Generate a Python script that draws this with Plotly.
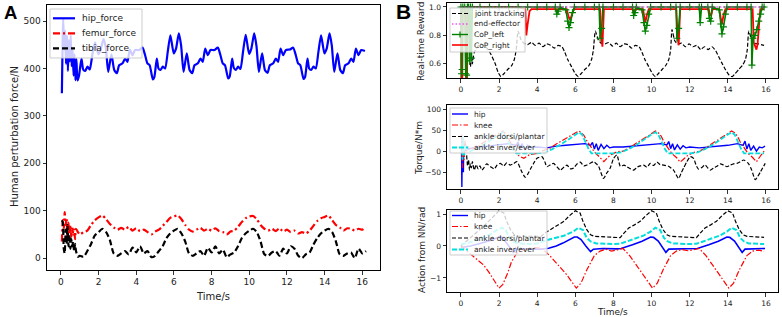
import plotly.graph_objects as go

W, H = 782, 317

# ---------------- Panel A data ----------------
hip_t = [0.05,0.12,0.17,0.22,0.27,0.32,0.37,0.42,0.47,0.52,0.57,0.62,0.67,0.72,0.77,0.82,
         0.88,0.96,1.09,1.18,1.29,1.41,1.53,1.67,1.81,1.99,2.11,2.26,2.38,2.51,2.68,2.83,2.97,3.09,3.27,3.41,3.53,3.66,3.80,3.94,4.15,4.33,4.47,4.59,4.71,
         4.88,4.96,5.09,5.18,5.29,5.41,5.53,5.67,5.81,5.99,6.11,6.26,6.38,6.51,6.68,6.83,6.97,7.09,7.27,7.41,7.53,7.66,7.80,7.94,8.15,8.33,8.47,8.59,8.71,
         8.88,8.96,9.09,9.18,9.29,9.41,9.53,9.67,9.81,9.99,10.11,10.26,10.38,10.51,10.68,10.83,10.97,11.09,11.27,11.41,11.53,11.66,11.80,11.94,12.15,12.33,12.47,12.59,12.71,
         12.88,12.96,13.09,13.18,13.29,13.41,13.53,13.67,13.81,13.99,14.11,14.26,14.38,14.51,14.68,14.83,14.97,15.09,15.27,15.41,15.53,15.66,15.80,15.94,16.14]
hip_force = [348,505,440,480,410,470,395,460,415,470,405,440,385,430,375,420,
             375,385,421,398,395,404,398,430,455,430,440,462,445,393,430,397,390,407,411,421,414,440,428,439,439,444,428,411,407,
             377,382,421,400,397,404,400,435,470,432,442,474,449,393,432,397,390,407,411,421,414,442,428,439,439,444,428,411,407,
             379,383,421,401,397,404,399,436,471,431,442,474,448,393,432,397,391,407,411,421,414,442,428,439,440,444,428,411,407,
             378,382,421,400,397,404,400,435,470,432,442,474,449,393,432,397,390,407,411,421,414,442,428,439,437]

ft_t = [0.05,0.1,0.15,0.2,0.25,0.3,0.35,0.4,0.45,0.5,0.55,0.6,0.65,0.7,0.75,0.8,0.9,1.0,
        1.2,1.4,1.6,1.8,2.0,2.2,2.4,2.6,2.8,3.0,3.2,3.4,3.6,3.8,4.0,4.2,4.4,4.6,4.8,5.0,
        5.2,5.4,5.6,5.8,6.0,6.2,6.4,6.6,6.8,7.0,7.2,7.4,7.6,7.8,8.0,8.2,8.4,8.6,8.8,9.0,
        9.2,9.4,9.6,9.8,10.0,10.2,10.4,10.6,10.8,11.0,11.2,11.4,11.6,11.8,12.0,12.2,12.4,12.6,12.8,13.0,
        13.2,13.4,13.6,13.8,14.0,14.2,14.4,14.6,14.8,15.0,15.2,15.4,15.6,15.8,16.0,16.2]
femur_force = [35,80,60,97,70,85,40,75,50,70,45,65,50,60,40,62,55,50,
               55,58,70,80,86,90,82,72,65,60,64,60,66,58,63,57,60,55,50,56,
               60,68,76,85,88,90,82,70,60,56,60,64,58,62,58,63,57,55,50,56,
               58,66,76,84,88,89,82,70,62,58,62,57,63,56,60,55,58,52,55,52,
               58,68,78,84,87,90,80,70,65,58,63,62,58,62,60,65]
tibia_force = [80,75,20,10,60,30,70,25,50,20,40,25,35,15,30,15,3,5,
               3,15,30,48,55,62,55,38,10,5,10,15,8,22,12,25,10,15,2,5,
               15,25,42,52,58,62,52,35,10,5,10,15,5,22,12,25,10,18,2,8,
               12,25,42,52,58,62,55,35,8,5,12,15,5,20,10,25,20,5,0,8,
               12,28,42,52,58,62,55,35,8,5,10,12,0,20,10,15]

# ---------------- Panel B1 data (reward) ----------------
jt_t = [0.45,0.5,0.55,0.6,0.7,1.0,1.3,1.6,1.8,1.95,2.1,2.25,2.45,2.65,2.8,2.9,3.0,
        3.15,3.3,3.5,3.7,3.9,4.1,4.3,4.5,4.7,4.9,5.1,5.3,5.45,5.6,5.8,6.0,6.15,6.3,6.5,6.7,6.85,6.95,7.05,
        7.2,7.35,7.55,7.75,7.95,8.15,8.35,8.55,8.75,8.95,9.15,9.35,9.5,9.65,9.85,10.05,10.2,10.35,10.55,10.75,10.9,11.0,11.07,
        11.22,11.37,11.57,11.77,11.97,12.17,12.37,12.57,12.77,12.97,13.17,13.37,13.52,13.67,13.87,14.07,14.22,14.37,14.57,14.77,14.92,15.02,15.1,
        15.25,15.4,15.6,15.9]
joint_tracking = [0.62,0.58,0.66,0.60,0.68,0.74,0.72,0.66,0.60,0.54,0.51,0.53,0.56,0.585,0.63,0.70,0.83,
                  0.77,0.745,0.735,0.75,0.73,0.745,0.72,0.74,0.73,0.71,0.73,0.72,0.68,0.63,0.58,0.53,0.51,0.53,0.56,0.585,0.63,0.70,0.83,
                  0.77,0.745,0.74,0.75,0.725,0.745,0.72,0.74,0.735,0.71,0.73,0.72,0.68,0.63,0.58,0.53,0.51,0.53,0.56,0.59,0.63,0.70,0.84,
                  0.76,0.74,0.745,0.72,0.74,0.72,0.73,0.70,0.72,0.70,0.72,0.69,0.65,0.61,0.56,0.52,0.51,0.53,0.56,0.59,0.63,0.70,0.83,
                  0.77,0.745,0.74,0.73]
ee_t = [0.0,4.0,8.0,12.0,15.9]
end_effector = [1.0,1.0,1.0,1.0,1.0]
cl_t = [0.0,0.03,0.06,0.1,0.2,0.25,0.3,0.34,0.4,0.45,0.5,0.55,0.6,1.0,1.5,2.0,2.5,3.0,3.5,4.0,
        4.5,4.95,5.03,5.1,5.2,5.5,5.6,5.67,5.75,5.85,5.95,6.5,7.0,7.25,7.3,7.38,7.45,8.0,8.5,9.0,
        9.06,9.13,9.2,9.5,9.6,9.67,9.75,9.85,9.95,10.5,11.0,11.28,11.33,11.42,11.5,12.0,12.5,12.55,12.62,12.95,
        13.03,13.1,13.18,13.55,13.63,13.69,13.77,13.87,13.95,14.5,15.0,15.22,15.26,15.32,15.42,15.52,15.62,15.72,15.8,15.9]
cop_left = [1.0,0.53,0.56,1.0,1.0,0.53,0.52,1.0,1.0,0.62,1.0,0.64,1.0,1.0,1.0,1.0,1.0,1.0,1.0,1.0,
            1.0,1.0,0.95,0.97,1.0,0.98,0.9,0.855,0.89,0.96,1.0,1.0,1.0,1.0,0.78,0.85,1.0,1.0,1.0,1.0,
            0.94,0.96,1.0,0.98,0.89,0.83,0.87,0.95,1.0,1.0,1.0,1.0,0.78,0.85,1.0,1.0,1.0,0.89,1.0,1.0,
            0.92,0.90,1.0,0.98,0.88,0.81,0.86,0.95,1.0,1.0,1.0,1.0,0.59,0.78,0.8,0.84,0.9,0.95,1.0,1.0]
cr_t = [0.0,0.02,0.07,0.1,0.24,0.27,0.32,0.35,1.0,2.0,3.0,3.38,3.43,3.5,3.6,3.7,4.5,4.98,5.03,5.1,
        5.55,5.65,5.73,5.82,5.92,6.5,7.3,7.36,7.42,7.5,8.5,9.0,9.06,9.14,9.55,9.62,9.67,9.75,9.85,10.5,
        11.3,11.36,11.42,11.5,12.5,13.0,13.06,13.14,13.2,13.55,13.63,13.69,13.77,13.87,14.5,15.3,15.36,15.44,15.5,15.56,
        15.62,15.7,15.9]
cop_right = [1.0,0.47,0.47,1.0,1.0,0.47,0.47,1.0,1.0,1.0,1.0,0.985,0.80,0.88,0.97,0.985,0.985,0.985,0.97,0.985,
             0.985,0.93,0.91,0.95,0.985,0.985,0.985,0.80,0.72,0.985,0.985,0.985,0.96,0.985,0.985,0.93,0.89,0.94,0.985,0.985,
             0.985,0.80,0.73,0.985,0.985,0.985,0.94,0.95,0.985,0.985,0.92,0.88,0.94,0.985,0.985,0.985,0.75,0.71,0.70,0.74,
             0.85,0.985,0.985]

# ---------------- Panel B2 data (torque) ----------------
th_t = [0.03,0.05,0.08,0.1,0.13,0.15,0.18,0.2,0.25,0.3,0.4,0.6,1.0,1.5,2.0,2.5,2.9,3.0,3.1,3.2,
        3.35,3.5,3.7,4.0,4.5,5.0,5.5,6.0,6.5,6.8,6.9,7.0,7.1,7.2,7.35,7.5,7.65,7.8,8.0,8.5,
        9.0,9.5,10.0,10.5,10.8,10.9,11.0,11.1,11.2,11.35,11.5,11.65,11.8,12.0,12.5,13.0,13.5,14.0,14.5,14.8,
        14.9,15.0,15.1,15.2,15.35,15.5,15.65,15.8,15.95]
torque_hip = [10,-85,30,-10,-50,20,-5,15,0,12,5,8,10,12,15,18,14,22,5,18,
              3,14,8,10,8,12,14,16,18,14,21,5,18,2,16,6,14,8,10,10,
              12,14,15,18,15,23,6,18,3,15,5,13,8,10,8,10,12,14,18,14,
              24,5,18,2,12,0,10,8,12]
tk_t = [0.03,0.05,0.08,0.12,0.17,0.22,0.3,0.4,0.6,1.0,1.5,2.0,2.2,2.4,2.7,3.0,3.3,3.6,4.0,4.35,
        4.7,5.0,5.4,5.75,6.0,6.17,6.3,6.45,6.6,6.8,7.0,7.25,7.5,7.7,7.85,8.2,8.5,8.8,9.1,9.4,
        9.8,10.0,10.2,10.35,10.5,10.65,10.85,11.05,11.3,11.5,11.7,11.9,12.2,12.5,12.8,13.1,13.4,13.8,14.0,14.2,
        14.35,14.5,14.65,14.85,15.05,15.3,15.5,15.7,15.9]
torque_knee = [0,40,-40,30,-20,25,0,10,5,15,30,42,48,38,12,-10,-17,-8,-5,2,
               8,17,27,37,44,48,45,38,25,12,-2,-13,-25,-15,-9,-1,0,7,15,25,
               36,43,48,44,36,22,8,-5,-15,-26,-18,-10,-3,0,7,16,25,36,43,48,
               44,36,22,8,-5,-15,-25,-12,0]
ta_t = [0.3,0.35,0.4,0.45,0.5,0.55,0.6,0.7,0.8,0.9,1.0,1.1,1.2,1.35,1.55,1.75,1.9,2.06,2.25,2.4,
        2.59,2.75,2.94,3.15,3.37,3.5,3.64,3.8,3.99,4.25,4.4,4.51,4.7,4.86,5.05,5.21,5.4,5.56,5.75,5.91,
        6.1,6.26,6.45,6.61,6.8,6.96,7.1,7.22,7.48,7.65,7.83,8.01,8.18,8.36,8.55,8.71,8.9,9.06,9.25,9.4,
        9.58,9.75,9.93,10.1,10.28,10.45,10.63,10.89,11.15,11.42,11.55,11.68,11.85,12.03,12.2,12.35,12.47,12.65,12.81,12.95,
        13.08,13.25,13.43,13.6,13.78,13.95,14.13,14.3,14.48,14.65,14.83,15.09,15.25,15.44,15.57,15.7,15.96]
torque_dorsi = [-10,-35,-20,-45,-30,-40,-25,-45,-32,-42,-35,-45,-40,-30,-37,-42,-33,-29,-35,-28,
                -33,-30,-25,-45,-62,-55,-43,-30,-17,-13,-25,-37,-32,-29,-38,-45,-38,-33,-42,-40,
                -30,-26,-35,-33,-28,-25,-30,-36,-65,-52,-40,-17,-9,-36,-33,-37,-42,-45,-38,-35,
                -33,-38,-29,-34,-26,-32,-33,-36,-45,-65,-52,-40,-25,-13,-17,-35,-43,-38,-33,-40,
                -45,-40,-36,-30,-33,-37,-33,-30,-29,-25,-21,-30,-45,-68,-60,-50,-29]
tc_t = [0.05,0.08,0.12,0.17,0.22,0.3,0.5,1.0,1.5,2.0,2.2,2.4,2.7,2.9,3.5,4.0,4.4,4.8,5.2,5.6,
        6.0,6.2,6.35,6.5,6.7,6.85,7.5,8.0,8.4,8.8,9.2,9.6,10.0,10.2,10.35,10.5,10.7,10.85,11.5,12.0,
        12.4,12.8,13.2,13.6,14.0,14.2,14.35,14.5,14.7,14.85,15.5,15.9]
torque_inver = [20,-20,35,-10,15,5,0,10,25,40,45,30,5,-5,-5,-5,-3,5,15,27,
                40,45,40,25,5,-5,-5,-5,-3,5,15,28,40,45,40,25,5,-5,-5,-5,
                -3,5,15,28,40,45,40,25,5,-5,-5,-5]

# ---------------- Panel B3 data (action) ----------------
ah_t = [0.0,0.5,1.0,1.5,2.0,2.15,2.45,2.75,2.9,3.5,4.2,4.6,5.0,5.35,5.7,5.95,6.1,6.3,6.55,6.8,
        6.95,7.45,8.15,8.4,9.0,9.5,9.95,10.1,10.35,10.55,10.75,10.9,11.5,12.2,12.4,13.0,13.5,13.95,14.1,14.35,
        14.55,14.75,14.9,15.5,15.95]
action_hip = [-0.05,0.0,0.08,0.16,0.28,0.27,0.05,-0.2,-0.1,-0.1,-0.1,-0.07,0.0,0.09,0.2,0.28,0.28,0.2,0.0,-0.18,
              -0.1,-0.08,-0.09,-0.08,0.04,0.15,0.28,0.27,0.15,-0.02,-0.2,-0.1,-0.09,-0.1,-0.08,0.04,0.15,0.28,0.27,0.15,
              -0.02,-0.2,-0.1,-0.09,-0.08]
ak_t = [0.0,0.2,0.5,0.9,1.2,1.5,1.8,2.0,2.2,2.45,2.65,2.9,3.2,3.5,4.0,4.3,4.7,5.2,5.55,5.85,
        6.05,6.3,6.6,7.0,7.3,7.6,7.9,8.2,8.5,8.85,9.2,9.55,9.85,10.05,10.3,10.6,11.0,11.3,11.6,11.9,
        12.2,12.5,12.85,13.2,13.55,13.85,14.05,14.3,14.6,15.0,15.3,15.6,15.9]
action_knee = [0.0,-0.1,-0.22,-0.45,-0.6,-0.85,-1.15,-1.32,-1.2,-0.85,-0.5,-0.25,-0.15,-0.1,-0.05,-0.1,-0.33,-0.65,-0.9,-1.15,
               -1.32,-1.16,-0.75,-0.3,-0.16,-0.1,-0.16,-0.12,-0.08,-0.3,-0.6,-0.88,-1.15,-1.32,-1.16,-0.75,-0.3,-0.16,-0.11,-0.15,
               -0.12,-0.08,-0.3,-0.6,-0.88,-1.15,-1.32,-1.16,-0.75,-0.3,-0.16,-0.13,-0.17]
ab_t = [0.0,0.3,0.6,0.9,1.2,1.5,1.8,2.0,2.25,2.4,2.6,2.8,3.0,3.6,4.2,4.42,4.86,5.1,5.4,5.7,
        6.0,6.25,6.4,6.6,6.8,7.0,7.6,8.2,8.35,8.55,8.8,9.1,9.4,9.7,10.0,10.25,10.4,10.6,10.8,11.0,
        11.6,12.2,12.35,12.55,12.8,13.1,13.4,13.7,14.0,14.25,14.4,14.6,14.8,15.0,15.5,15.9]
action_dorsi = [0.0,0.15,0.3,0.45,0.62,0.8,0.97,1.1,1.03,0.77,0.51,0.35,0.3,0.29,0.3,0.41,0.56,0.66,0.77,0.95,
                1.1,1.03,0.77,0.51,0.35,0.3,0.29,0.27,0.26,0.4,0.56,0.66,0.77,0.95,1.1,1.03,0.77,0.51,0.35,0.3,
                0.29,0.27,0.26,0.4,0.56,0.66,0.77,0.95,1.1,1.03,0.77,0.51,0.35,0.3,0.29,0.27]
ac_t = [0.0,0.5,1.0,1.5,1.9,2.15,2.35,2.55,2.75,3.0,3.6,4.0,4.5,5.0,5.4,5.9,6.15,6.4,6.6,6.8,
        7.1,8.0,8.35,8.7,9.2,9.6,9.95,10.2,10.45,10.65,10.85,11.1,12.0,12.35,12.7,13.2,13.6,13.95,14.2,14.45,
        14.65,14.85,15.1,15.9]
action_inver = [0.05,0.12,0.22,0.35,0.5,0.57,0.5,0.25,0.13,0.08,0.06,0.08,0.18,0.25,0.32,0.45,0.57,0.5,0.25,0.14,
                0.08,0.06,0.07,0.14,0.25,0.33,0.45,0.57,0.5,0.25,0.14,0.08,0.06,0.07,0.14,0.25,0.33,0.45,0.57,0.5,
                0.25,0.14,0.08,0.06]

x_ticks = [0, 2, 4, 6, 8, 10, 12, 14, 16]

BLUE, RED, BLACK = "#0000ff", "#ff0000", "#000000"
GREEN, MAGENTA, CYAN = "#008000", "#ff00ff", "#00dede"
FONT = "DejaVu Sans"
TXT = "#222222"


def fx(x):
    return x / W


def fy(y):
    return 1 - y / H


fig = go.Figure()


def line(x, y, xa, ya, color, width, dash="solid", name="", shape="linear"):
    fig.add_trace(go.Scatter(x=x, y=y, xaxis=xa, yaxis=ya, mode="lines", name=name,
                             showlegend=False,
                             line=dict(color=color, width=width, dash=dash, shape=shape,
                                       smoothing=0.6 if shape == "spline" else None)))


# Panel A
line(hip_t, hip_force, "x", "y", BLUE, 2.2, name="hip_force", shape="spline")
line(ft_t, femur_force, "x", "y", RED, 2.2, "7px,3px,2px,3px", "femur_force", shape="spline")
line(ft_t, tibia_force, "x", "y", BLACK, 2.2, "6px,3px", "tibia_force", shape="spline")

# Panel B1
line(jt_t, joint_tracking, "x2", "y2", BLACK, 1.2, "4px,2px", "joint tracking", shape="spline")
line(cr_t, cop_right, "x2", "y2", RED, 1.8, name="CoP_right")
fig.add_trace(go.Scatter(x=cl_t, y=cop_left, xaxis="x2", yaxis="y2", mode="lines+markers",
                         name="CoP_left", showlegend=False,
                         line=dict(color=GREEN, width=1.6),
                         marker=dict(symbol="cross-thin", size=5, color=GREEN,
                                     line=dict(color=GREEN, width=1.2))))
line(ee_t, end_effector, "x2", "y2", MAGENTA, 1.2, "1.5px,2px", "end-effector")

# Panel B2
line(th_t, torque_hip, "x3", "y3", BLUE, 1.4, name="hip")
line(tk_t, torque_knee, "x3", "y3", RED, 1.2, "6px,2px,1.5px,2px", "knee")
line(ta_t, torque_dorsi, "x3", "y3", BLACK, 1.2, "4px,2px", "ankle dorsi/plantar", shape="spline")
line(tc_t, torque_inver, "x3", "y3", CYAN, 1.8, "5px,2px", "ankle inver/ever")

# Panel B3
line(ah_t, action_hip, "x4", "y4", BLUE, 1.6, name="hip")
line(ak_t, action_knee, "x4", "y4", RED, 1.2, "6px,2px,1.5px,2px", "knee")
line(ab_t, action_dorsi, "x4", "y4", BLACK, 1.2, "4px,2px", "ankle dorsi/plantar")
line(ac_t, action_inver, "x4", "y4", CYAN, 2.0, "5px,2px", "ankle inver/ever")


def xax(domain, anchor, rng, size):
    return dict(domain=domain, anchor=anchor, range=rng, tickmode="array", tickvals=x_ticks,
                ticktext=[str(v) for v in x_ticks], showgrid=False, zeroline=False, automargin=False,
                showline=True, linecolor="#000", linewidth=1, mirror=True,
                ticks="outside", ticklen=3.5, tickwidth=0.8, tickcolor="#000",
                tickfont=dict(family=FONT, size=size, color=TXT))


def yax(domain, anchor, rng, vals, texts, size):
    return dict(domain=domain, anchor=anchor, range=rng, tickmode="array", tickvals=vals,
                ticktext=texts, showgrid=False, zeroline=False, automargin=False,
                showline=True, linecolor="#000", linewidth=1, mirror=True,
                ticks="outside", ticklen=3.5, tickwidth=0.8, tickcolor="#000",
                tickfont=dict(family=FONT, size=size, color=TXT))


xA = [fx(47), fx(380)]
xB = [fx(447), fx(778)]

fig.update_layout(
    template="none",
    width=W, height=H, margin=dict(l=0, r=0, t=0, b=0, autoexpand=False),
    paper_bgcolor="white", plot_bgcolor="white", showlegend=False,
    xaxis=xax(xA, "y", [-0.74, 16.94], 9),
    yaxis=yax([fy(270), fy(5)], "x", [-25, 534], [0, 100, 200, 300, 400, 500],
              ["0", "100", "200", "300", "400", "500"], 9),
    xaxis2=xax(xB, "y2", [-0.73, 16.63], 7.5),
    yaxis2=yax([fy(78), fy(3)], "x2", [0.50, 1.028], [0.6, 0.8, 1.0], ["0.6", "0.8", "1.0"], 7.5),
    xaxis3=xax(xB, "y3", [-0.73, 16.63], 7.5),
    yaxis3=yax([fy(189), fy(105)], "x3", [-90, 110], [-50, 0, 50, 100],
               ["\u221250", "0", "50", "100"], 7.5),
    xaxis4=xax(xB, "y4", [-0.73, 16.63], 7.5),
    yaxis4=yax([fy(292), fy(210)], "x4", [-1.44, 1.125], [-1, 0, 1], ["\u22121", "0", "1"], 7.5),
)

annotations = []
shapes = []


def text(x, y, s, size, angle=0, xanchor="center", color=TXT, family=FONT, bold=False):
    annotations.append(dict(x=fx(x), y=fy(y), xref="paper", yref="paper", text=("<b>%s</b>" % s) if bold else s,
                            showarrow=False, textangle=angle, xanchor=xanchor, yanchor="middle",
                            font=dict(family=family, size=size, color=color)))


# axis titles and panel letters
text(14, 137, "Human perturbation force/N", 10, -90)
text(213, 296, "Time/s", 10)
text(421, 42, "Real-time Reward", 9, -90)
text(419, 148, "Torque/N*m", 9, -90)
text(422, 250, "Action from NN/rad", 9, -90)
text(612, 311.5, "Time/s", 9)
text(10, 13, "A", 18.5, family="Liberation Sans", color="#000", bold=True)
text(403, 11, "B", 21, family="Liberation Sans", color="#000", bold=True)


def legend(box, rows, sx0, sx1, tx, size):
    x0, y0, x1, y1 = box
    shapes.append(dict(type="rect", xref="paper", yref="paper", x0=fx(x0), x1=fx(x1), y0=fy(y1), y1=fy(y0),
                       fillcolor="rgba(255,255,255,0.8)", line=dict(color="rgba(200,200,200,0.9)", width=1),
                       layer="above"))
    for (yy, name, color, dash, width, plus) in rows:
        shapes.append(dict(type="line", xref="paper", yref="paper", x0=fx(sx0), x1=fx(sx1), y0=fy(yy), y1=fy(yy),
                           line=dict(color=color, width=width, dash=dash), layer="above"))
        if plus:
            xm = (sx0 + sx1) / 2
            shapes.append(dict(type="line", xref="paper", yref="paper", x0=fx(xm), x1=fx(xm),
                               y0=fy(yy - 3), y1=fy(yy + 3), line=dict(color=color, width=1.2), layer="above"))
        text(tx, yy, name, size, xanchor="left")


legend((50, 9, 142, 58), [
    (18.3, "hip_force", BLUE, "solid", 2.2, False),
    (33.3, "femur_force", RED, "7px,3px,2px,3px", 2.2, False),
    (48.3, "tibia_force", BLACK, "6px,3px", 2.2, False),
], 53, 75, 80, 9)

legend((450, 8, 525, 52), [
    (13.5, "joint tracking", BLACK, "4px,2px", 1.2, False),
    (24.0, "end-effector", MAGENTA, "1.5px,2px", 1.2, False),
    (34.5, "CoP_left", GREEN, "solid", 1.4, True),
    (45.0, "CoP_right", RED, "solid", 1.6, False),
], 452, 468, 472, 7.5)

for (top, bottom, ys) in [(108, 153, (114, 125, 136.5, 147.5)), (211, 255, (215.5, 226.5, 238, 249.5))]:
    legend((450, top, 547, bottom), [
        (ys[0], "hip", BLUE, "solid", 1.4, False),
        (ys[1], "knee", RED, "6px,2px,1.5px,2px", 1.2, False),
        (ys[2], "ankle dorsi/plantar", BLACK, "4px,2px", 1.2, False),
        (ys[3], "ankle inver/ever", CYAN, "5px,2px", 1.8, False),
    ], 452, 468, 472, 7.5)

fig.update_layout(annotations=annotations, shapes=shapes)
fig.write_html("out.html", config={"displayModeBar": False, "staticPlot": True})

# remove the browser's default page margin so the figure sits at the window origin
with open("out.html", "r", encoding="utf-8") as f:
    page = f.read()
page = page.replace("<head>", "<head><style>html,body{margin:0;padding:0;overflow:hidden;}</style>", 1)
with open("out.html", "w", encoding="utf-8") as f:
    f.write(page)
